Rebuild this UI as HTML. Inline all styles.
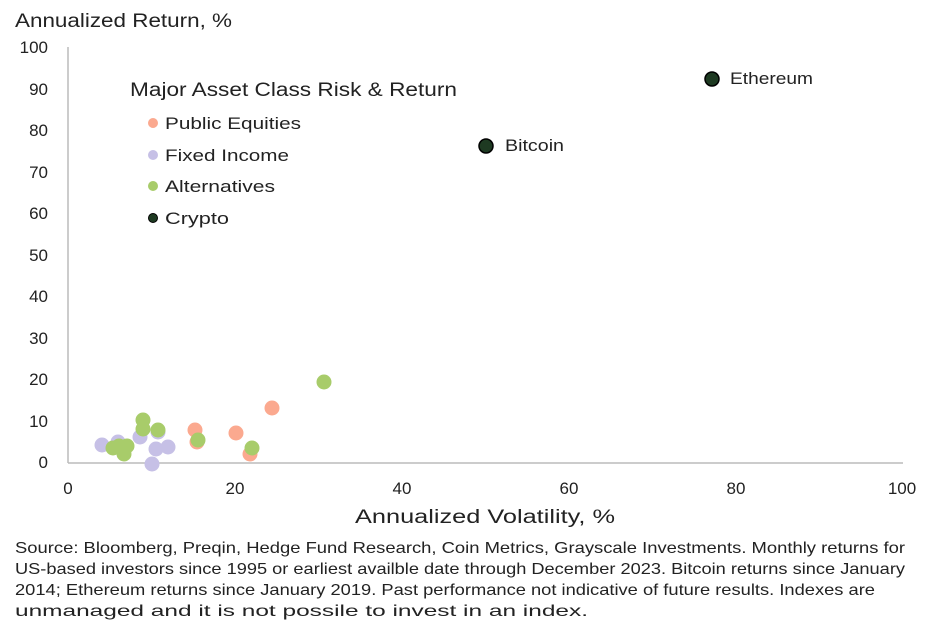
<!DOCTYPE html>
<html><head><style>
body{margin:0;background:#fff;width:945px;height:630px;overflow:hidden;font-family:"Liberation Sans",sans-serif;color:#222}
</style></head><body>
<svg width="945" height="630" xmlns="http://www.w3.org/2000/svg" style="position:absolute;left:0;top:0" font-family="Liberation Sans, sans-serif" fill="#222">
<text x="15" y="27" font-size="19" textLength="217" lengthAdjust="spacingAndGlyphs">Annualized Return, %</text>
<g font-size="17" text-anchor="end">
<text x="48" y="53">100</text><text x="48" y="95">90</text><text x="48" y="136">80</text><text x="48" y="178">70</text><text x="48" y="219">60</text><text x="48" y="261">50</text><text x="48" y="302">40</text><text x="48" y="344">30</text><text x="48" y="385">20</text><text x="48" y="427">10</text><text x="48" y="468">0</text>
</g>
<line x1="68" y1="47" x2="68" y2="463" stroke="#bbb" stroke-width="1.5"/>
<line x1="68" y1="463" x2="903" y2="463" stroke="#bbb" stroke-width="1.5"/>
<g font-size="17" text-anchor="middle">
<text x="68" y="494">0</text><text x="235" y="494">20</text><text x="402" y="494">40</text><text x="569" y="494">60</text><text x="736" y="494">80</text><text x="902" y="494">100</text>
</g>
<text x="355" y="523" font-size="19" textLength="260" lengthAdjust="spacingAndGlyphs">Annualized Volatility, %</text>
<text x="130" y="96" font-size="19" textLength="327" lengthAdjust="spacingAndGlyphs">Major Asset Class Risk &amp; Return</text>
<g font-size="17">
<circle cx="153" cy="123" r="5" fill="#fba98f"/><text x="165" y="129" textLength="136" lengthAdjust="spacingAndGlyphs">Public Equities</text>
<circle cx="153" cy="155" r="5" fill="#c6c0e6"/><text x="165" y="161" textLength="124" lengthAdjust="spacingAndGlyphs">Fixed Income</text>
<circle cx="153" cy="186" r="5" fill="#a8cc6a"/><text x="165" y="192" textLength="110" lengthAdjust="spacingAndGlyphs">Alternatives</text>
<circle cx="153" cy="218" r="4.5" fill="#1e3a22" stroke="#000" stroke-width="1"/><text x="165" y="224" textLength="64" lengthAdjust="spacingAndGlyphs">Crypto</text>
</g>
<g fill="#c6c0e6">
<circle cx="102" cy="445" r="7.5"/><circle cx="118" cy="442" r="7.5"/><circle cx="140" cy="437" r="7.5"/><circle cx="158" cy="432" r="7.5"/><circle cx="156" cy="449" r="7.5"/><circle cx="168" cy="447" r="7.5"/><circle cx="152" cy="464" r="7.5"/>
</g>
<g fill="#fba98f">
<circle cx="195" cy="430" r="7.5"/><circle cx="197" cy="442" r="7.5"/><circle cx="236" cy="433" r="7.5"/><circle cx="250" cy="454" r="7.5"/><circle cx="272" cy="408" r="7.5"/>
</g>
<g fill="#a8cc6a">
<circle cx="143" cy="420" r="7.5"/><circle cx="143" cy="429" r="7.5"/><circle cx="158" cy="430" r="7.5"/><circle cx="113" cy="448" r="7.5"/><circle cx="127" cy="446" r="7.5"/><circle cx="124" cy="454" r="7.5"/><circle cx="119" cy="446" r="7.5"/><circle cx="198" cy="440" r="7.5"/><circle cx="252" cy="448" r="7.5"/><circle cx="324" cy="382" r="7.5"/>
</g>
<circle cx="486" cy="146" r="7" fill="#1e3a22" stroke="#000" stroke-width="1.5"/>
<text x="505" y="151" font-size="17" textLength="59" lengthAdjust="spacingAndGlyphs">Bitcoin</text>
<circle cx="712" cy="79" r="7" fill="#1e3a22" stroke="#000" stroke-width="1.5"/>
<text x="730" y="84" font-size="17" textLength="83" lengthAdjust="spacingAndGlyphs">Ethereum</text>
<g font-size="16">
<text x="15" y="553" textLength="890" lengthAdjust="spacingAndGlyphs">Source: Bloomberg, Preqin, Hedge Fund Research, Coin Metrics, Grayscale Investments. Monthly returns for</text>
<text x="15" y="574" textLength="890" lengthAdjust="spacingAndGlyphs">US-based investors since 1995 or earliest availble date through December 2023. Bitcoin returns since January</text>
<text x="15" y="595" textLength="860" lengthAdjust="spacingAndGlyphs">2014; Ethereum returns since January 2019. Past performance not indicative of future results. Indexes are</text>
<text x="15" y="616" textLength="573" lengthAdjust="spacingAndGlyphs">unmanaged and it is not possile to invest in an index.</text>
</g>
</svg>
</body></html>
